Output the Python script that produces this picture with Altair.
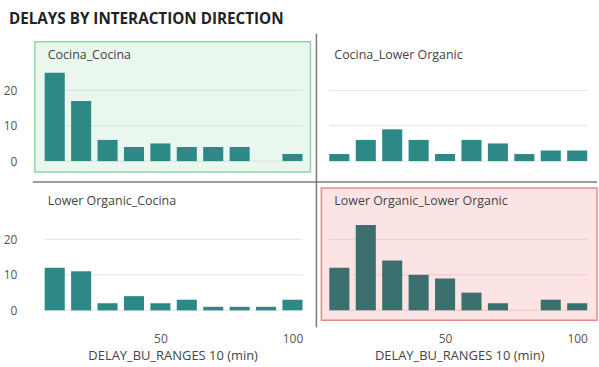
import altair as alt
import pandas as pd

# Delay counts per 10-minute range, one series per interaction direction
bins = [10, 20, 30, 40, 50, 60, 70, 80, 90, 100]
cocina_cocina = [25, 17, 6, 4, 5, 4, 4, 4, 0, 2]
cocina_lower = [2, 6, 9, 6, 2, 6, 5, 2, 3, 3]
lower_cocina = [12, 11, 2, 4, 2, 3, 1, 1, 1, 3]
lower_lower = [12, 24, 14, 10, 9, 5, 2, 0, 3, 2]

FONT = "Open Sans"
HALF = 3.8  # half bar width in minutes


def panel(name, counts, col, row, width, height, xdom, ydom,
          bar_color, grid_color, view, extra=None):
    df = pd.DataFrame({"range": bins, "count": counts})
    base_x = alt.Scale(domain=xdom, nice=False, zero=False)
    base_y = alt.Scale(domain=ydom, nice=False, zero=False)

    if row == 1:
        x_axis = alt.Axis(values=[50, 100], grid=False, domain=False, ticks=False,
                          labelPadding=13, labelFontSize=12, labelColor="#555555",
                          labelFont=FONT, title="DELAY_BU_RANGES 10 (min)",
                          titleFont=FONT, titleFontSize=13, titleFontWeight="normal",
                          titleColor="#444444", titlePadding=5)
    else:
        x_axis = None
    if col == 0:
        y_axis = alt.Axis(values=[0, 10, 20], grid=False, domain=False, ticks=False,
                          labelPadding=18, labelFontSize=12, labelColor="#555555",
                          labelFont=FONT, title=None)
    else:
        y_axis = None

    grid = alt.Chart(pd.DataFrame({"g": [0, 10, 20]})).mark_rule(
        color=grid_color, strokeWidth=1
    ).encode(
        y=alt.Y("g:Q", scale=base_y, axis=y_axis),
        x=alt.datum(bins[0] - HALF, scale=base_x, axis=x_axis),
        x2=alt.datum(bins[-1] + HALF),
    )

    bars = alt.Chart(df).transform_calculate(
        lo=f"datum.range - {HALF}", hi=f"datum.range + {HALF}", base="0"
    ).mark_rect(color=bar_color).encode(
        x=alt.X("lo:Q", scale=base_x, axis=x_axis),
        x2="hi:Q",
        y=alt.Y("count:Q", scale=base_y, axis=y_axis),
        y2="base:Q",
    )

    label = alt.Chart(pd.DataFrame({"t": [name]})).mark_text(
        align="left", baseline="middle", font=FONT, fontSize=12.5, color="#444444"
    ).encode(x=alt.value(13), y=alt.value(13), text="t:N")

    layers = [grid, bars, label] + (extra or [])
    return alt.layer(*layers).properties(width=width, height=height, view=view)


one = pd.DataFrame({"k": [0]})

# Dashboard heading and invisible corner anchor for the canvas origin
heading = alt.Chart(one).mark_text(
    align="left", baseline="middle", font="Open Sans", fontSize=15.3,
    fontWeight="bold", color="#222222"
).encode(x=alt.value(-26), y=alt.value(-23), text=alt.value("DELAYS BY INTERACTION DIRECTION"))
anchor = alt.Chart(one).mark_rect(opacity=0).encode(
    x=alt.value(-34), x2=alt.value(-33), y=alt.value(-40), y2=alt.value(-39)
)

# Divider lines between the quadrants
v_divider = alt.Chart(one).mark_rule(color="#7a7a7a", strokeWidth=1.5).encode(
    x=alt.value(-5), y=alt.value(-8), y2=alt.value(287)
)
h_divider = alt.Chart(one).mark_rule(color="#7a7a7a", strokeWidth=1.5).encode(
    y=alt.value(-6), x=alt.value(-2), x2=alt.value(565)
)

plain = alt.ViewBackground(fill="white", stroke="transparent")
green = alt.ViewBackground(fill="#e9f7ef", stroke="#8fd4ae", strokeWidth=1.5)
pink = alt.ViewBackground(fill="#fde4e4", stroke="#e58a8a", strokeWidth=1.5)

TEAL = "#2d8985"
SLATE = "#3c706f"

top_left = panel("Cocina_Cocina", cocina_cocina, 0, 0, 277, 131,
                 [2.47, 106.8], [-3.1, 33.8], TEAL, "#cfe3d8", green,
                 extra=[heading, anchor])
top_right = panel("Cocina_Lower Organic", cocina_lower, 1, 0, 277, 131,
                  [3.2, 107.5], [-3.1, 33.8], TEAL, "#e4e4e4", plain,
                  extra=[v_divider])
bottom_left = panel("Lower Organic_Cocina", lower_cocina, 0, 1, 277, 133,
                    [2.47, 106.8], [-2.8, 34.45], TEAL, "#e4e4e4", plain,
                    extra=[h_divider])
bottom_right = panel("Lower Organic_Lower Organic", lower_lower, 1, 1, 277, 133,
                     [3.2, 107.5], [-2.8, 34.45], SLATE, "#f2c6c6", pink)

chart = alt.concat(
    top_left, top_right, bottom_left, bottom_right,
    columns=2, spacing=alt.RowColnumber(row=16, column=11), bounds="flush"
).properties(
    padding=0, background="white"
).configure_view(stroke="transparent")

chart.save("out.html", embed_options={"renderer": "svg", "actions": False})
